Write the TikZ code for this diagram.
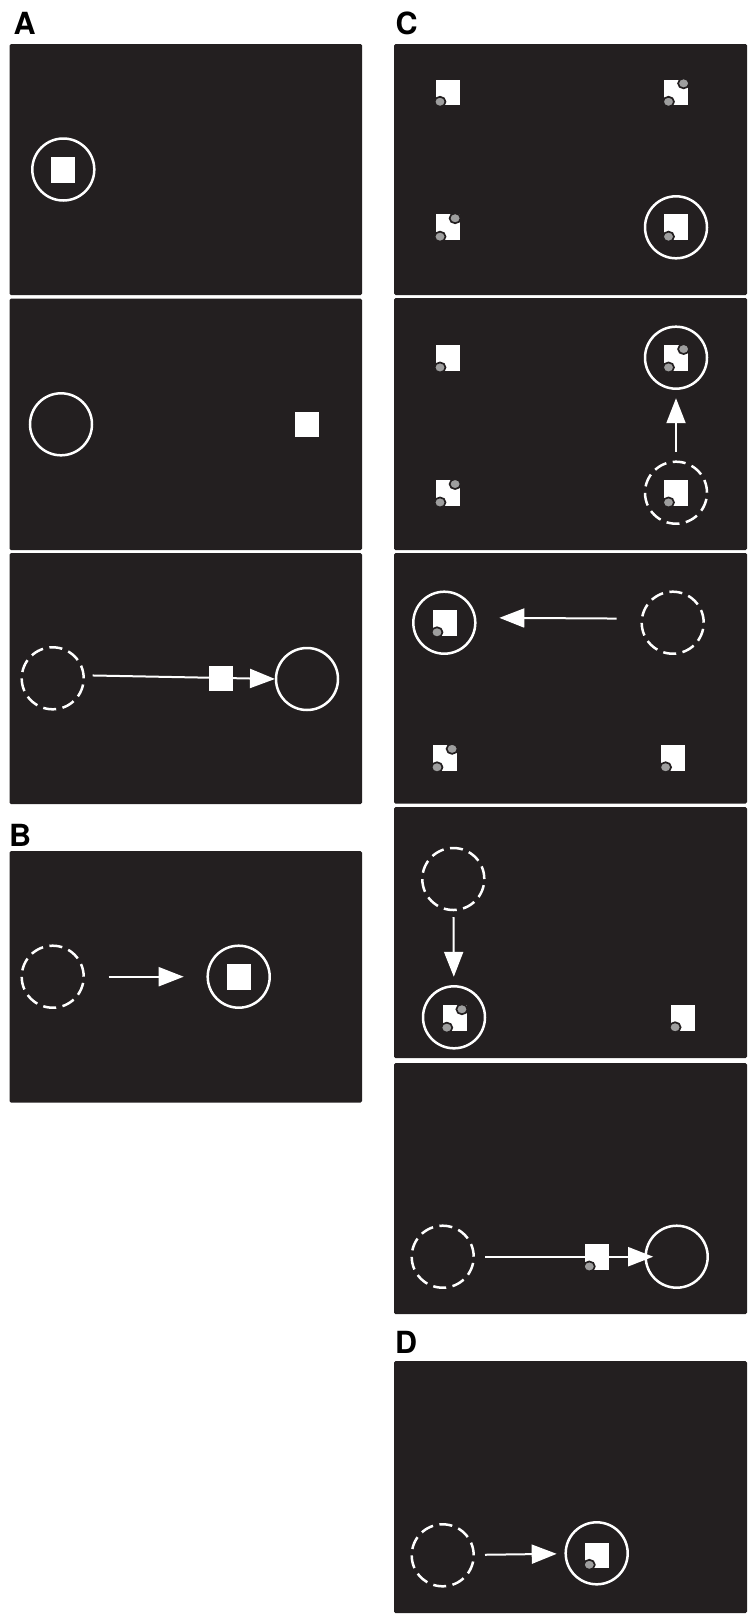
\documentclass[tikz,border=0pt]{standalone}
\usepackage{fontspec}
\setmainfont{TeX Gyre Heros}
\usepackage{tikz}
\usetikzlibrary{arrows.meta, shapes.geometric}
\definecolor{panelblack}{RGB}{35,31,32}
\definecolor{dotgray}{RGB}{158,158,158}
\newcommand\lowdot[1]{\node[dot] (#1-1) at ([shift={(4.5pt,3.5pt)}]#1.south west) {};}
\newcommand\highdot[1]{\node[dot] (#1-2) at ([shift={(-4.8pt,-4pt)}]#1.north east) {};}

\begin{document}
\begin{tikzpicture}[x=1pt, y=-1pt,
  panel/.style={fill=panelblack, rounded corners=1.5pt},
  ring/.style={draw=white, circle, line width=2.5pt, minimum size=62pt, inner sep=0pt, outer sep=0pt},
  ghost/.style={ring, dash pattern=on 13pt off 6.5pt},
  card/.style={fill=white, rectangle, minimum width=24pt, minimum height=25.5pt, inner sep=0pt},
  dot/.style={ellipse, fill=dotgray, draw=panelblack, line width=1.7pt, minimum width=11pt, minimum height=10pt, inner sep=0pt},
  move/.style={draw=white, line width=2pt, -{Triangle[length=25pt, width=19pt]}},
  tag/.style={anchor=base west, inner sep=0pt, font=\fontsize{30.5}{30}\selectfont\bfseries}]
\useasboundingbox (0,0) rectangle (749,1614);
\fill[panel] (9.5,44) rectangle (362,295);
\fill[panel] (9.5,298.7) rectangle (362,550);
\fill[panel] (9.5,553) rectangle (362,804);
\fill[panel] (9.5,851) rectangle (362,1102.7);
\fill[panel] (394,44) rectangle (747,295);
\fill[panel] (394,298) rectangle (747,550);
\fill[panel] (394,553) rectangle (747,803.5);
\fill[panel] (394,807) rectangle (747,1058);
\fill[panel] (394,1063) rectangle (747,1314);
\fill[panel] (394,1361) rectangle (747,1613);
\node[tag] (labA) at (13.5,34) {A};
\node[tag] (labB) at (9,846) {B};
\node[tag] (labC) at (395.5,34) {C};
\node[tag] (labD) at (395,1353) {D};

\node[ring] (a1r) at (63.3,169.5) {};
\node[card] (a1c) at (63.3,170) {};

\node[ring] (a2r) at (61,424.3) {};
\node[card] (a2c) at (307.3,424.5) {};

\node[ghost] (a3g) at (52.7,678.3) {};
\node[ring] (a3r) at (307,679) {};
\draw[move, shorten <=9pt, shorten >=1pt] ([yshift=3pt]a3g.east) -- (a3r.west);
\node[card] (a3c) at (220.5,678.7) {};

\node[ghost] (bg) at (52.7,976.7) {};
\node[ring] (br) at (238.7,976.7) {};
\node[card] (bc) at (238.7,977) {};
\draw[move, shorten <=25pt, shorten >=24pt] (bg) -- (br);

\node[card] (c1a) at (447.7,92.3) {}; \lowdot{c1a}
\node[card] (c1b) at (676.2,92.3) {}; \lowdot{c1b} \highdot{c1b}
\node[card] (c1c) at (447.7,227.2) {}; \lowdot{c1c} \highdot{c1c}
\node[ring] (c1r) at (676,227.3) {};
\node[card] (c1d) at (676.2,227.2) {}; \lowdot{c1d}

\node[card] (c2a) at (447.7,358) {}; \lowdot{c2a}
\node[ring] (c2r) at (676,357.7) {};
\node[card] (c2b) at (676.2,358) {}; \lowdot{c2b} \highdot{c2b}
\node[card] (c2c) at (447.7,493) {}; \lowdot{c2c} \highdot{c2c}
\node[ghost] (c2g) at (676,492.7) {};
\node[card] (c2d) at (676.2,493) {}; \lowdot{c2d}
\draw[move, shorten <=10pt, shorten >=9.5pt] (c2g) -- (c2r);

\node[ring] (c3r) at (444.3,622.7) {};
\node[card] (c3a) at (444.7,622.8) {}; \lowdot{c3a}
\node[ghost] (c3g) at (672.7,622.7) {};
\draw[move, shorten <=25pt, shorten >=24pt] ([yshift=4pt]c3g.west) -- ([yshift=5pt]c3r.east);
\node[card] (c3c) at (444.7,757.8) {}; \lowdot{c3c} \highdot{c3c}
\node[card] (c3d) at (673.3,757.8) {}; \lowdot{c3d}

\node[ghost] (c4g) at (453.3,879) {};
\node[ring] (c4r) at (454,1017.3) {};
\draw[move, shorten <=7pt, shorten >=9.5pt] (c4g) -- (c4r);
\node[card] (c4c) at (454.5,1018.2) {}; \lowdot{c4c} \highdot{c4c}
\node[card] (c4d) at (682.8,1017.8) {}; \lowdot{c4d}

\node[ghost] (c5g) at (442.7,1256.7) {};
\node[ring] (c5r) at (676.7,1256.7) {};
\draw[move, shorten <=11.3pt, shorten >=-7.5pt] (c5g) -- (c5r);
\node[card] (c5c) at (597,1257) {}; \lowdot{c5c}

\node[ghost] (dg) at (442.7,1555.3) {};
\node[ring] (dr) at (596.7,1553.3) {};
\node[card] (dc) at (597,1555.3) {}; \lowdot{dc}
\draw[move, shorten <=11.3pt, shorten >=9pt] (dg) -- (dr);
\end{tikzpicture}
\end{document}
